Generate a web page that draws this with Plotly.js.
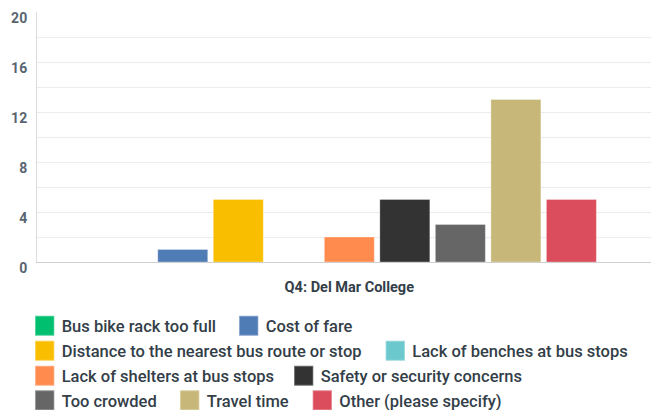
<!DOCTYPE html>
<html>
<head>
<meta charset="utf-8">
<script src="https://cdn.plot.ly/plotly-3.0.1.min.js"></script>
<style>
html,body{margin:0;padding:0;background:#fff;}
#chart{width:651px;height:410px;}
</style>
</head>
<body>
<div id="chart"></div>
<script>
const category = ["Q4: Del Mar College"];
const seriesNames = [
  "Bus bike rack too full",
  "Cost of fare",
  "Distance to the nearest bus route or stop",
  "Lack of benches at bus stops",
  "Lack of shelters at bus stops",
  "Safety or security concerns",
  "Too crowded",
  "Travel time",
  "Other (please specify)"
];
const seriesValues = [0, 1, 5, 0, 2, 5, 3, 13, 5];
const seriesColors = ["#00BF6F", "#507CB6", "#F9BE00", "#6BC8CD", "#FF8B4F", "#333333", "#666666", "#C7B879", "#DB4D5C"];
const yTicks = [0, 4, 8, 12, 16, 20];

// legend placement (pixels in the 651x410 page): [text-left x, row centre y]
const legendPos = [
  [61.7, 326], [265.7, 326],
  [61.7, 351], [412.3, 351],
  [61.7, 376], [320.7, 376],
  [61.7, 400.5], [206.7, 400.5], [339.3, 400.5]
];

const W = 651, H = 410;
const legendFont = {family: "Roboto, 'Liberation Sans', sans-serif", size: 16.5, color: "#333e48", weight: 500};

const traces = seriesNames.map((name, i) => ({
  type: "bar",
  name: name,
  x: category,
  y: [seriesValues[i]],
  marker: {color: seriesColors[i], line: {color: "rgba(255,255,255,0.3)", width: 1}},
  legend: i === 0 ? "legend" : "legend" + (i + 1),
  hoverinfo: "name+y"
}));

const layout = {
  width: W, height: H,
  margin: {l: 37, r: 0, t: 12, b: 148},
  paper_bgcolor: "#fff",
  plot_bgcolor: "#fff",
  barmode: "group",
  bargap: 0.2,
  bargroupgap: 0.1,
  showlegend: true,
  xaxis: {
    type: "category",
    range: [-0.5, 0.483],
    showline: true, linecolor: "#cfcfcf", linewidth: 1,
    showgrid: false, zeroline: false, ticks: "",
    ticklabelstandoff: 12,
    tickfont: {family: "Roboto, 'Liberation Sans', sans-serif", size: 14.5, color: "#333e48", weight: 700}
  },
  yaxis: {
    range: [0, 20],
    tickvals: yTicks,
    ticktext: yTicks.map(String),
    showline: true, linecolor: "#dcdcdc", linewidth: 1,
    showgrid: true, gridcolor: "#ececec", gridwidth: 1,
    minor: {dtick: 2, showgrid: true, gridcolor: "#ececec", gridwidth: 1, ticks: ""},
    zeroline: false, ticks: "",
    ticklabelstandoff: 6,
    ticklabelshift: 6,
    tickfont: {family: "Roboto, 'Liberation Sans', sans-serif", size: 14, color: "#5a6570", weight: 700}
  }
};

legendPos.forEach((p, i) => {
  const key = i === 0 ? "legend" : "legend" + (i + 1);
  layout[key] = {
    xref: "container", yref: "container",
    x: (p[0] - 40) / W, xanchor: "left",
    y: 1 - p[1] / H, yanchor: "middle",
    bgcolor: "rgba(0,0,0,0)", borderwidth: 0,
    font: legendFont,
    orientation: "h"
  };
});

Plotly.newPlot("chart", traces, layout, {displayModeBar: false, staticPlot: true}).then(gd => {
  // enlarge the legend swatches to the reference's ~19px squares
  gd.querySelectorAll(".legendpoints path").forEach(p => {
    const t = p.getAttribute("transform") || "";
    p.setAttribute("transform", t + " translate(3,0) scale(1.6,1.65)");
  });
});
</script>
</body>
</html>
